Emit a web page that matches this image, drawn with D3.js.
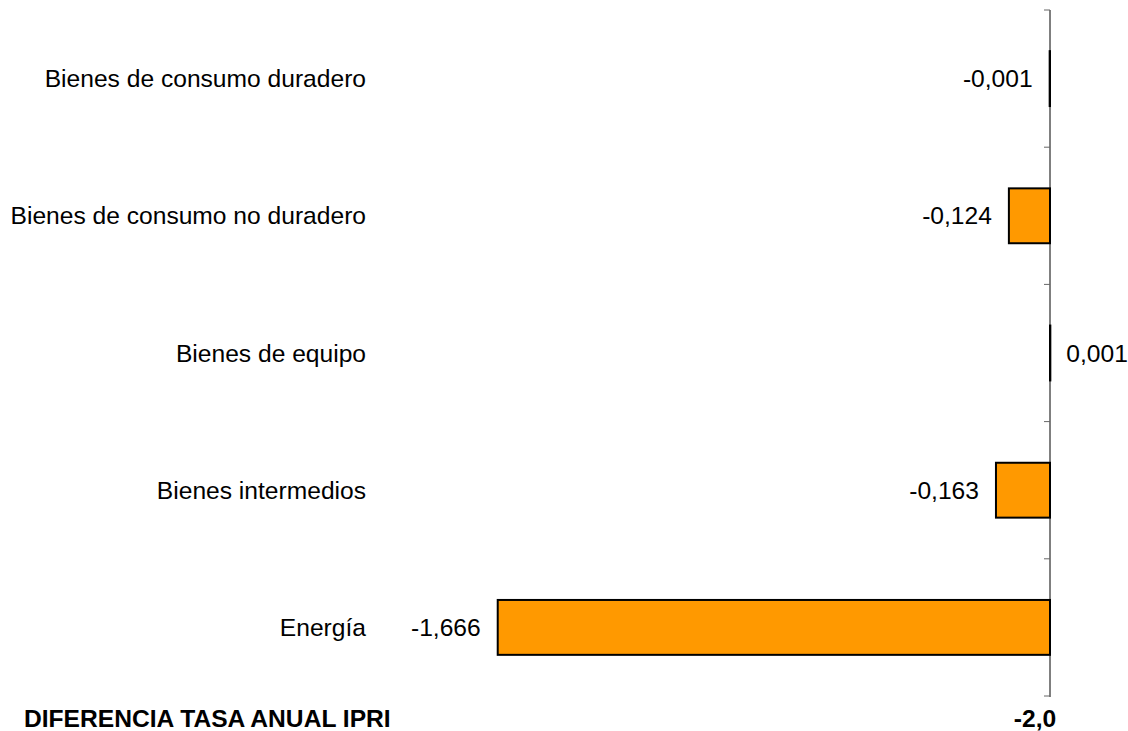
<!DOCTYPE html>
<html>
<head>
<meta charset="utf-8">
<script src="https://cdn.jsdelivr.net/npm/d3@7"></script>
<style>
  body { margin: 0; background: #fff; }
  text { font-family: "Liberation Sans", Arial, sans-serif; }
</style>
</head>
<body>
<div id="chart"></div>
<script>
// Data
var categories = ["Bienes de consumo duradero", "Bienes de consumo no duradero", "Bienes de equipo", "Bienes intermedios", "Energía"];
var values = [-0.001, -0.124, 0.001, -0.163, -1.666];
var valueLabels = ["-0,001", "-0,124", "0,001", "-0,163", "-1,666"];
var axisTitle = "DIFERENCIA TASA ANUAL IPRI";
var axisTickLabel = "-2,0";

const width = 1128, height = 731;

var svg = d3.select("#chart")
    .append("svg")
    .attr("width", width)
    .attr("height", height);

// Scales
var x = d3.scaleLinear().domain([-2, 0]).range([387, 1050]);
var y = d3.scaleBand().domain(categories).range([10, 696]).paddingInner(0.6).paddingOuter(0.3);

var data = categories.map(function(c, i) { return { cat: c, v: values[i], label: valueLabels[i] }; });

// Bars
svg.selectAll("rect.bar")
    .data(data)
    .enter().append("rect")
    .attr("class", "bar")
    .attr("x", function(d) { return x(Math.min(0, d.v)); })
    .attr("y", function(d) { return y(d.cat); })
    .attr("width", function(d) { return Math.abs(x(d.v) - x(0)); })
    .attr("height", y.bandwidth())
    .style("fill", "#FF9900")
    .style("stroke", "#000")
    .style("stroke-width", 2);

// Vertical axis at zero
var step = (696 - 10) / categories.length;
svg.append("line")
    .attr("x1", x(0)).attr("x2", x(0))
    .attr("y1", 10).attr("y2", 697)
    .style("stroke", "#000").style("stroke-width", 1);

svg.selectAll("line.tick")
    .data(d3.range(categories.length + 1))
    .enter().append("line")
    .attr("class", "tick")
    .attr("x1", x(0) - 6).attr("x2", x(0))
    .attr("y1", function(i) { return 10 + i * step; })
    .attr("y2", function(i) { return 10 + i * step; })
    .style("stroke", "#666").style("stroke-width", 1);

// Category labels
svg.selectAll("text.cat")
    .data(data)
    .enter().append("text")
    .attr("class", "cat")
    .attr("x", 366)
    .attr("y", function(d) { return y(d.cat) + y.bandwidth() / 2; })
    .attr("dy", "0.35em")
    .attr("text-anchor", "end")
    .style("font-size", "24.6px")
    .style("fill", "#000")
    .text(function(d) { return d.cat; });

// Value labels
svg.selectAll("text.val")
    .data(data)
    .enter().append("text")
    .attr("class", "val")
    .attr("x", function(d) { return d.v < 0 ? x(d.v) - 17 : x(d.v) + 16; })
    .attr("y", function(d) { return y(d.cat) + y.bandwidth() / 2; })
    .attr("dy", "0.35em")
    .attr("text-anchor", function(d) { return d.v < 0 ? "end" : "start"; })
    .style("font-size", "24.6px")
    .style("fill", "#000")
    .text(function(d) { return d.label; });

// Bottom labels
svg.append("text")
    .attr("x", 1035)
    .attr("y", 727)
    .attr("text-anchor", "middle")
    .style("font-size", "24.6px")
    .style("font-weight", "bold")
    .text(axisTickLabel);

svg.append("text")
    .attr("x", 24)
    .attr("y", 727)
    .style("font-size", "24.6px")
    .style("font-weight", "bold")
    .text(axisTitle);
</script>
</body>
</html>
